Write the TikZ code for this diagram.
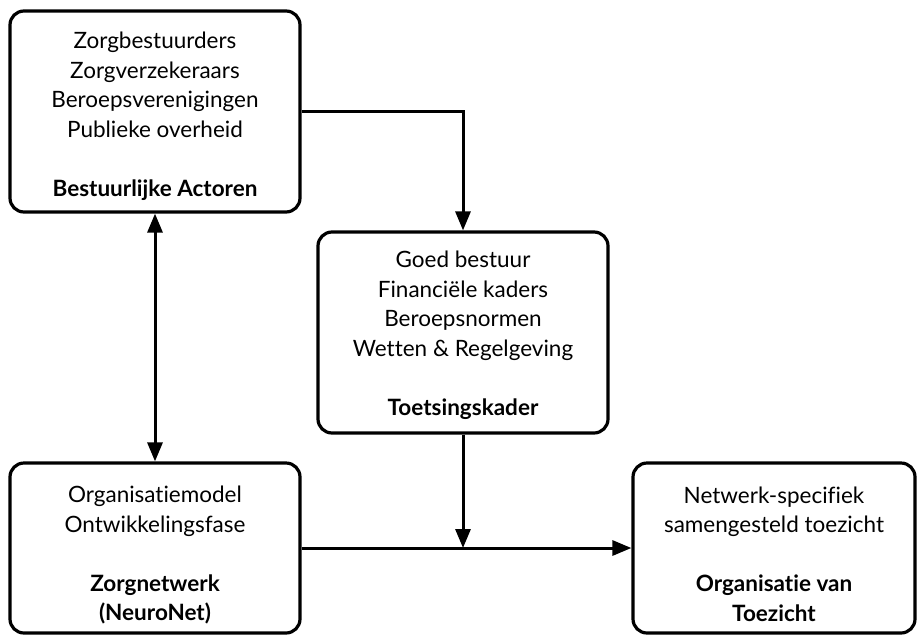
\documentclass[tikz,border=0pt]{standalone}
\usepackage{fontspec}
\setmainfont{Lato}[Ligatures={NoCommon}]
\usetikzlibrary{arrows.meta}
\begin{document}
\begin{tikzpicture}[x=1pt,y=-1pt,
  box/.style={draw=black, line width=3.2pt, rounded corners=14pt, inner sep=0pt},
  txt/.style={align=center, inner sep=0pt, font=\fontsize{22.5}{29.5}\selectfont},
  conn/.style={line width=3pt, -{Triangle[length=19pt,width=15pt]}},
  both/.style={line width=3pt, {Triangle[length=19pt,width=15pt]}-{Triangle[length=19pt,width=15pt]}}]
\useasboundingbox (0,0) rectangle (917,635);

% the four blocks
\node[box, minimum width=290pt, minimum height=201pt] (act) at (155,111.5) {};
\node[box, minimum width=290pt, minimum height=201pt] (kader) at (463,332.5) {};
\node[box, minimum width=290pt, minimum height=170pt] (net) at (155,548) {};
\node[box, minimum width=282pt, minimum height=170pt] (sup) at (774,548) {};

% block contents
\node[txt] (act-t) at (155,116) {Zorgbestuurders\\ Zorgverzekeraars\\ Beroepsverenigingen\\ Publieke overheid\\[29.5pt] \textbf{Bestuurlijke Actoren}};
\node[txt] (kader-t) at (463,335) {Goed bestuur\\ Financiële kaders\\ Beroepsnormen\\ Wetten \& Regelgeving\\[29.5pt] \textbf{Toetsingskader}};
\node[txt] (net-t) at (155,555) {Organisatiemodel\\ Ontwikkelingsfase\\[29.5pt] \textbf{Zorgnetwerk}\\ \textbf{(NeuroNet)}};
\node[txt] (sup-t) at (774,554) {Netwerk-specifiek\\ samengesteld toezicht\\[29.5pt] \textbf{Organisatie van}\\ \textbf{Toezicht}};

% connectors
\coordinate (join) at (kader.south |- net.east);
\draw[conn] (act.east) -| (kader.north);
\draw[both] (act.south) -- (net.north);
\draw[conn] (kader.south) -- (join);
\draw[conn] (net.east) -- (sup.west);
\end{tikzpicture}
\end{document}
